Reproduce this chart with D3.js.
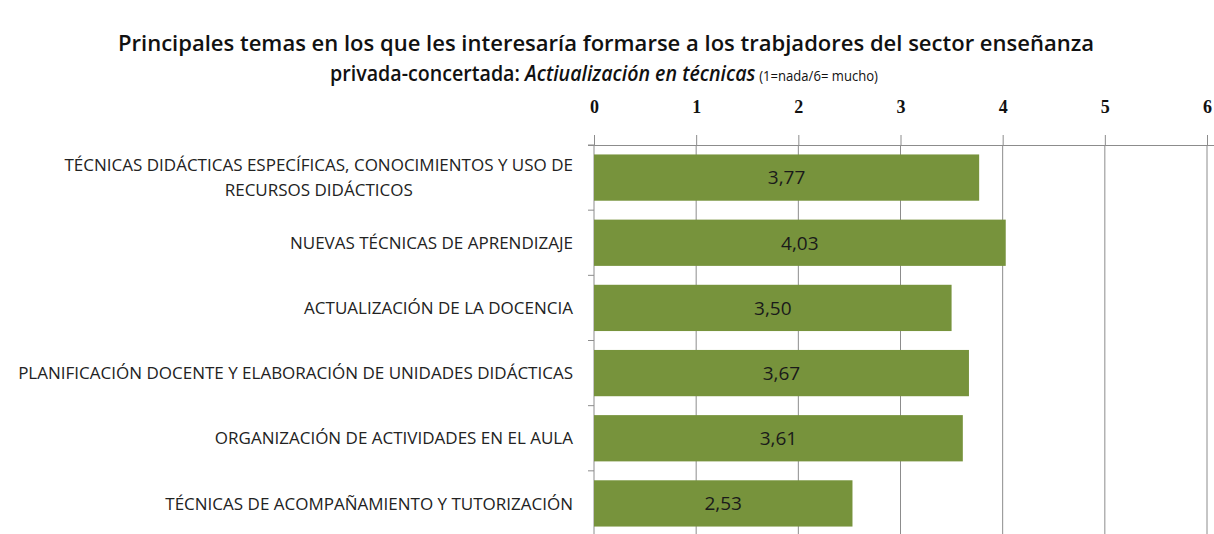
<!DOCTYPE html>
<html><head><meta charset="utf-8">
<script src="https://cdn.jsdelivr.net/npm/d3@7"></script>
<style>body{margin:0;background:#fff}svg{display:block}</style>
</head><body>
<svg id="c" width="1214" height="534"></svg>
<script>
const categories = [
  ["TÉCNICAS DIDÁCTICAS ESPECÍFICAS, CONOCIMIENTOS Y USO DE", "RECURSOS DIDÁCTICOS"],
  ["NUEVAS TÉCNICAS DE APRENDIZAJE"],
  ["ACTUALIZACIÓN DE LA DOCENCIA"],
  ["PLANIFICACIÓN DOCENTE Y ELABORACIÓN DE UNIDADES DIDÁCTICAS"],
  ["ORGANIZACIÓN DE ACTIVIDADES EN EL AULA"],
  ["TÉCNICAS DE ACOMPAÑAMIENTO Y TUTORIZACIÓN"]
];
const values = [3.77, 4.03, 3.50, 3.67, 3.61, 2.53];
const tickValues = [0, 1, 2, 3, 4, 5, 6];
const titleLine1 = "Principales temas en los que les interesaría formarse a los trabjadores del sector enseñanza";
const titleLine2a = "privada-concertada: ";
const titleLine2b = "Actiualización en técnicas";
const titleLine2c = "(1=nada/6= mucho)";

(function () {
const svg = d3.select("#c");
const mLeft = 594, mRight = 1207, mTop = 145, mBottom = 536;
const x = d3.scaleLinear().domain([0, 6]).range([mLeft, mRight]);
const y = d3.scaleBand().domain(d3.range(categories.length)).range([mTop, mBottom]).paddingInner(0.29).paddingOuter(0.145);

// title line 1
const t1 = svg.append("text").attr("x", 606).attr("y", 51).attr("text-anchor", "middle")
  .style("font-family", "'Open Sans'").style("font-size", "21px").style("font-weight", 600).attr("fill", "#111")
  .text(titleLine1);
t1.attr("textLength", 976).attr("lengthAdjust", "spacingAndGlyphs");

// title line 2: three pieces placed side by side
const g2 = svg.append("g");
const inner = g2.append("g").style("font-family", "'Open Sans'").attr("fill", "#111");
const pieces = [
  {t: titleLine2a, size: 21, weight: 600, style: "normal", gap: 0},
  {t: titleLine2b, size: 21, weight: 600, style: "italic", gap: 4},
  {t: titleLine2c, size: 14, weight: 400, style: "normal", gap: 0}
];
let cur = 0;
pieces.forEach(p => {
  const el = inner.append("text").attr("x", cur).attr("y", 0)
    .style("font-size", p.size + "px").style("font-weight", p.weight).style("font-style", p.style)
    .attr("xml:space", "preserve").style("white-space", "pre").text(p.t);
  cur += el.node().getComputedTextLength() + p.gap;
});
const targetW = 548, sx = targetW / cur;
g2.attr("transform", `translate(${604 - targetW / 2},81) scale(${sx},1)`);

// gridlines
svg.append("g").selectAll("line").data(tickValues.slice(1)).join("line")
  .attr("x1", d => x(d)).attr("x2", d => x(d)).attr("y1", mTop).attr("y2", 534)
  .attr("stroke", "#8c8c8c").attr("stroke-width", 1);

// top axis
const ax = svg.append("g").attr("transform", `translate(0,${mTop})`)
  .call(d3.axisTop(x).tickValues(tickValues).tickSize(10).tickPadding(22).tickSizeOuter(0).tickFormat(d3.format("d")));
ax.select(".domain").attr("stroke", "#8c8c8c").attr("d", `M${mLeft - 6},0.5H1214`);
ax.selectAll(".tick line").attr("stroke", "#8c8c8c");
ax.selectAll(".tick text").attr("fill", "#111").style("font-family", "'Liberation Serif'").style("font-size", "18px").style("font-weight", 600);

// left axis
svg.append("line").attr("x1", mLeft).attr("x2", mLeft).attr("y1", mTop).attr("y2", 534).attr("stroke", "#8c8c8c");
const step = y.step();
svg.append("g").selectAll("line").data(d3.range(categories.length + 1)).join("line")
  .attr("x1", mLeft - 6).attr("x2", mLeft).attr("y1", d => mTop + d * step).attr("y2", d => mTop + d * step)
  .attr("stroke", "#8c8c8c");

// bars
svg.append("g").selectAll("rect").data(values).join("rect")
  .attr("x", x(0)).attr("y", (d, i) => y(i)).attr("width", d => x(d) - x(0)).attr("height", y.bandwidth())
  .attr("fill", "#77933c");

// value labels
svg.append("g").selectAll("text").data(values).join("text")
  .attr("x", d => (x(0) + x(d)) / 2).attr("y", (d, i) => y(i) + y.bandwidth() / 2).attr("dy", "0.36em")
  .attr("text-anchor", "middle").attr("fill", "#1a1a1a")
  .style("font-family", "'Open Sans'").style("font-size", "19px")
  .text(d => d3.format(".2f")(d).replace(".", ","));

// category labels
const lab = svg.append("g").style("font-family", "'Open Sans'").style("font-size", "17px").attr("fill", "#222");
const groups = lab.selectAll("g").data(categories).join("g");
groups.each(function (lines, i) {
  const g = d3.select(this);
  const cy = y(i) + y.bandwidth() / 2;
  const lh = 25;
  const texts = lines.map((l, k) => g.append("text").attr("y", cy + (k - (lines.length - 1) / 2) * lh).attr("dy", "0.36em").text(l));
  const widths = texts.map(t => t.node().getComputedTextLength());
  const maxW = d3.max(widths);
  const cx = 573 - maxW / 2;
  texts.forEach(t => t.attr("x", cx).attr("text-anchor", "middle"));
});
})();
</script>
</body></html>
